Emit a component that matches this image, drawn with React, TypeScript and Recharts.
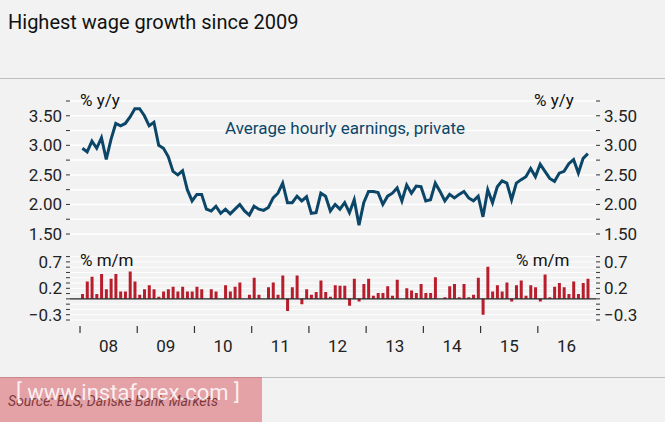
import React from 'react';
import {
  LineChart, Line, BarChart, Bar, XAxis, YAxis, CartesianGrid, ReferenceLine,
} from 'recharts';

// monthly, Jan 2008 - Nov 2016
const yoy = [
  2.95, 2.89, 3.07, 2.95, 3.13, 2.76, 3.1, 3.37, 3.33, 3.37, 3.48, 3.62,
  3.62, 3.5, 3.33, 3.39, 3.0, 2.95, 2.81, 2.56, 2.5, 2.57, 2.25, 2.06,
  2.17, 2.17, 1.92, 1.89, 1.97, 1.85, 1.92, 1.84, 1.92, 2.0, 1.89, 1.82,
  1.97, 1.92, 1.9, 1.95, 2.11, 2.19, 2.36, 2.03, 2.03, 2.14, 2.06, 2.13,
  1.85, 1.86, 2.19, 2.14, 1.89, 2.0, 1.92, 2.03, 1.86, 2.08, 1.65, 2.03,
  2.22, 2.22, 2.2, 2.0, 2.14, 2.19, 2.28, 2.06, 2.33, 2.19, 2.31, 2.3,
  2.06, 2.08, 2.36, 2.22, 2.06, 2.17, 2.11, 2.17, 2.22, 2.11, 2.06, 2.14,
  1.79, 2.25, 2.03, 2.3, 2.4, 2.36, 2.08, 2.36, 2.42, 2.47, 2.61, 2.47,
  2.68, 2.56, 2.44, 2.39, 2.53, 2.56, 2.69, 2.76, 2.53, 2.78, 2.86,
];

const mom = [
  0.09, 0.33, 0.42, 0.09, 0.47, 0.18, 0.38, 0.47, 0.14, 0.14, 0.52, 0.33,
  0.08, 0.18, 0.26, 0.18, 0.04, 0.14, 0.18, 0.23, 0.14, 0.23, 0.14, 0.14,
  0.23, 0.18, 0.0, 0.18, 0.14, 0.0, 0.26, 0.14, 0.23, 0.31, 0.0, 0.08,
  0.4, 0.08, 0.0, 0.22, 0.31, 0.08, 0.44, -0.23, 0.22, 0.44, -0.1, 0.18,
  0.08, 0.13, 0.35, 0.13, 0.04, 0.26, 0.25, 0.25, -0.13, 0.38, -0.05, 0.28,
  0.38, 0.06, 0.11, 0.11, 0.24, 0.06, 0.36, 0.0, 0.2, 0.16, 0.11, 0.28,
  0.11, 0.11, 0.41, 0.0, 0.03, 0.24, 0.28, 0.03, 0.28, 0.03, 0.08, 0.4,
  -0.3, 0.61, 0.14, 0.26, 0.14, 0.31, -0.05, 0.26, 0.35, 0.06, 0.26, 0.22,
  -0.05, 0.46, 0.03, 0.23, 0.3, 0.22, 0.09, 0.33, 0.09, 0.3, 0.38,
];

const yearLabels = ['08', '09', '10', '11', '12', '13', '14', '15', '16'];
const yoyTicks = [1.5, 1.75, 2, 2.25, 2.5, 2.75, 3, 3.25, 3.5, 3.75];
const momTicks = [-0.4, -0.3, -0.2, -0.1, 0, 0.1, 0.2, 0.3, 0.4, 0.5, 0.6, 0.7, 0.8];

const data = yoy.map((v, i) => ({ m: i + 0.5, yoy: v, mom: mom[i] }));
const yearTicks = yearLabels.map((_, i) => i * 12);
const yearMid = yearLabels.map((_, i) => i * 12 + 6);

const FONT = 'Roboto, sans-serif';
const BLUE = '#0b4668';
const RED = '#b81d2c';
const X_DOMAIN: [number, number] = [-2.1, 108.2];

const tickStyle = { fill: '#222', fontSize: 17, fontFamily: FONT };

const yoyFmt = (v: number) => (Math.abs(v * 2 - Math.round(v * 2)) < 1e-6 && v <= 3.5 ? v.toFixed(2) : '');
const momFmt = (v: number) => ([0.7, 0.2, -0.3].some(t => Math.abs(t - v) < 1e-6) ? String(v).replace('-', '−') : '');

const YearTick = (props: any) => (
  <line x1={props.x} x2={props.x} y1={props.y + 4} y2={props.y + 11} stroke="#333" strokeWidth={1.2} />
);

export default function App() {
  return (
    <div style={{ position: 'fixed', left: 0, top: 0, width: 665, height: 422, background: '#f2f2f2', fontFamily: FONT, overflow: 'hidden' }}>
      <div style={{ position: 'absolute', left: 8, top: 10, fontSize: 20, color: '#111' }}>
        Highest wage growth since 2009
      </div>
      <div style={{ position: 'absolute', left: 0, top: 78, width: 665, height: 1, background: '#bdbdbd' }} />

      <div style={{ position: 'absolute', left: 0, top: 0 }}>
        <LineChart width={665} height={260} data={data} margin={{ top: 101, right: 9, bottom: 26, left: 10 }}>
          <CartesianGrid vertical={false} stroke="#ffffff" strokeWidth={1.5} yAxisId="l" />
          <XAxis dataKey="m" type="number" domain={X_DOMAIN} allowDataOverflow hide />
          <YAxis yAxisId="l" width={60} domain={[1.5, 3.75]} ticks={yoyTicks} interval={0}
            tickFormatter={yoyFmt} tick={tickStyle} axisLine={false} tickLine={{ stroke: '#333' }} tickSize={4} tickMargin={4} />
          <YAxis yAxisId="r" orientation="right" width={60} domain={[1.5, 3.75]} ticks={yoyTicks} interval={0}
            tickFormatter={yoyFmt} tick={tickStyle} axisLine={false} tickLine={{ stroke: '#333' }} tickSize={4} tickMargin={4} />
          <Line yAxisId="r" dataKey="yoy" stroke="none" strokeWidth={0} dot={false} isAnimationActive={false} legendType="none" />
          <Line yAxisId="l" dataKey="yoy" stroke={BLUE} strokeWidth={3} dot={false} isAnimationActive={false} />
        </LineChart>
      </div>

      <div style={{ position: 'absolute', left: 0, top: 240 }}>
        <BarChart width={665} height={130} data={data} margin={{ top: 16.6, right: 9, bottom: 0, left: 10 }} barSize={3}>
          <CartesianGrid vertical={false} stroke="#ffffff" strokeWidth={1} yAxisId="l" />
          <XAxis dataKey="m" type="number" domain={X_DOMAIN} allowDataOverflow ticks={yearTicks} interval={0}
            axisLine={false} tickLine={false} tickSize={0} tick={<YearTick />} height={20} />
          <XAxis xAxisId="lab" dataKey="m" type="number" domain={X_DOMAIN} allowDataOverflow ticks={yearMid} interval={0}
            tickFormatter={(v: number) => yearLabels[(v - 6) / 12]} axisLine={false} tickLine={false}
            tickSize={0} tickMargin={0} tick={tickStyle} height={30} />
          <YAxis yAxisId="l" width={60} domain={[-0.4, 0.8]} ticks={momTicks} interval={0}
            tickFormatter={momFmt} tick={tickStyle} axisLine={false} tickLine={{ stroke: '#333' }} tickSize={4} tickMargin={4} />
          <YAxis yAxisId="r" orientation="right" width={60} domain={[-0.4, 0.8]} ticks={momTicks} interval={0}
            tickFormatter={momFmt} tick={tickStyle} axisLine={false} tickLine={{ stroke: '#333' }} tickSize={4} tickMargin={4} />
          <ReferenceLine yAxisId="l" y={0} stroke="#222" strokeWidth={1.2} />
          <Bar yAxisId="r" xAxisId="lab" dataKey="mom" fill="none" isAnimationActive={false} />
          <Bar yAxisId="l" dataKey="mom" fill={RED} isAnimationActive={false} />
        </BarChart>
      </div>

      <div style={{ position: 'absolute', left: 80, top: 90, fontSize: 17, color: '#111' }}>% y/y</div>
      <div style={{ position: 'absolute', left: 534, top: 90, fontSize: 17, color: '#111' }}>% y/y</div>
      <div style={{ position: 'absolute', left: 225, top: 118, fontSize: 17, color: BLUE }}>Average hourly earnings, private</div>
      <div style={{ position: 'absolute', left: 80, top: 250, fontSize: 17, color: '#111' }}>% m/m</div>
      <div style={{ position: 'absolute', left: 516, top: 250, fontSize: 17, color: '#111' }}>% m/m</div>

      <div style={{ position: 'absolute', left: 0, top: 377, width: 665, height: 1, background: '#bdbdbd' }} />
      <div style={{ position: 'absolute', left: 8, top: 393, fontSize: 14, fontStyle: 'italic', color: '#222' }}>
        Source: BLS, Danske Bank Markets
      </div>
      <div style={{ position: 'absolute', left: 0, top: 377, width: 262, height: 45, background: 'rgba(214, 80, 90, 0.5)', color: 'rgba(255,255,255,0.85)', fontSize: 22, paddingLeft: 16, paddingTop: 3, boxSizing: 'border-box' }}>
        [ www.instaforex.com ]
      </div>
    </div>
  );
}
